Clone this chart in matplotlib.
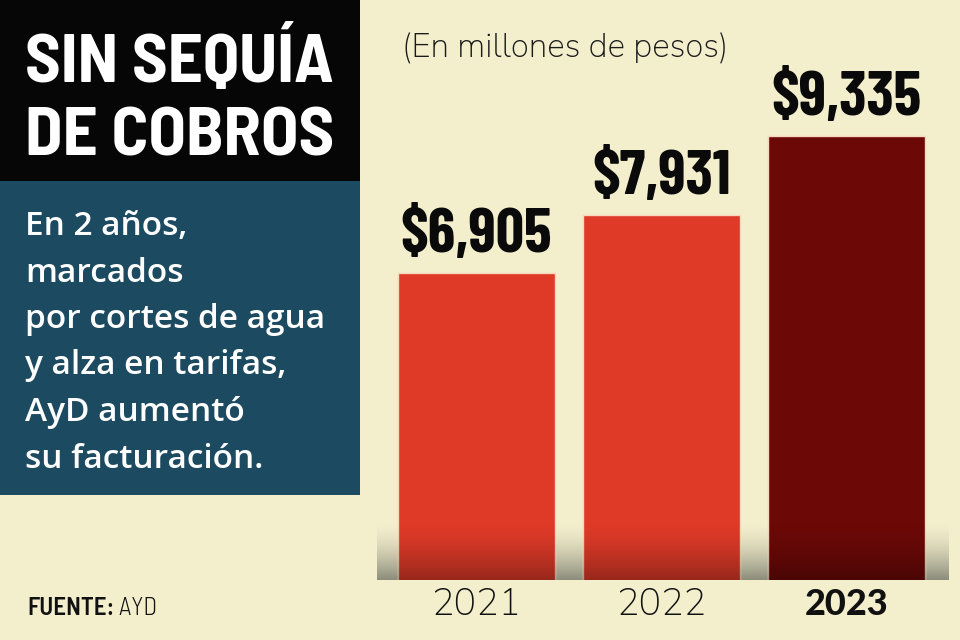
import numpy as np
import matplotlib
matplotlib.use("Agg")
import matplotlib.pyplot as plt
from matplotlib.patches import Rectangle

# data
years = ["2021", "2022", "2023"]
values = [6905, 7931, 9335]
value_labels = ["$6,905", "$7,931", "$9,335"]
bar_colors = ["#df3a28", "#df3a28", "#6c0907"]

title_lines = ["SIN SEQUÍA", "DE COBROS"]
note_lines = ["En 2 años,", "marcados", "por cortes de agua",
              "y alza en tarifas,", "AyD aumentó", "su facturación."]
units = "(En millones de pesos)"

BG = "#f3eecc"
NARROW = ["Barlow Condensed", "DejaVu Sans"]
SEMI = ["Barlow Semi Condensed", "DejaVu Sans"]
GEO = ["Nunito Sans", "Lato", "DejaVu Sans"]

fig = plt.figure(figsize=(9.6, 6.4), dpi=100, facecolor=BG)

# pixel-space axes for the panels and free text
bg = fig.add_axes([0, 0, 1, 1], zorder=0)
bg.set_xlim(0, 960)
bg.set_ylim(640, 0)
bg.axis("off")

bg.add_patch(Rectangle((0, 0), 360, 181, color="#060606", lw=0))
bg.add_patch(Rectangle((0, 181), 360, 314, color="#1c4a60", lw=0))

for i, line in enumerate(title_lines):
    bg.text(25, 82 + i * 73, line, color="white", fontsize=49.5,
            fontweight="bold", family=SEMI, fontstretch="semi-condensed",
            va="baseline", ha="left")

for i, line in enumerate(note_lines):
    bg.text(25, 235 + i * 46.5, line, color="white", fontsize=24,
            fontweight="semibold", family=["Open Sans", "DejaVu Sans"],
            va="baseline", ha="left")

bg.text(402, 57, units, color="#1b1b1b", fontsize=24, fontweight=300,
        family=GEO, va="baseline", ha="left")

src = bg.text(27, 615, "FUENTE:", color="#111111", fontsize=18,
              fontweight="semibold", family=SEMI, fontstretch="semi-condensed",
              va="baseline")
bg.annotate(" AYD", xy=(1, 0), xycoords=src, color="#111111", fontsize=18,
            fontweight=300, family=SEMI, fontstretch="semi-condensed",
            va="bottom", ha="left")

# bar axes: 185 px per category, baseline at y=580 px
ax = fig.add_axes([365.5 / 960, 60 / 640, 592 / 960, 580 / 640], zorder=1)
ax.set_facecolor("none")
for s in ax.spines.values():
    s.set_visible(False)
ax.set_xlim(-0.6, 2.6)
y0, y1 = 1420, 11766
ax.set_ylim(y0, y1)
ax.set_yticks([])

x = np.arange(len(years))
w = 0.85
shadow_top = y0 + 58 / 580 * (y1 - y0)

# grey shadow on the floor behind bars (transparent at top, grey at bottom)
grad = np.linspace(0, 1, 64)[:, None]
floor = np.zeros((64, 1, 4))
floor[..., :3] = matplotlib.colors.to_rgb("#808272")
floor[..., 3] = grad ** 1.6 * 0.9
ax.imshow(floor, extent=[x[0] - 0.54, x[-1] + 0.55, y0, shadow_top],
          aspect="auto", origin="upper", zorder=0.5, interpolation="bilinear")

bars = ax.bar(x, values, width=w, color=bar_colors, edgecolor="#f7d8bc",
              linewidth=1, zorder=2)

dark = np.zeros((64, 1, 4))
dark[..., 3] = grad ** 1.5 * 0.32
for b in bars:
    ax.imshow(dark, extent=[b.get_x(), b.get_x() + b.get_width(), y0, shadow_top],
              aspect="auto", origin="upper", zorder=3, interpolation="bilinear")

for xi, v, lab in zip(x, values, value_labels):
    ax.annotate(lab, xy=(xi, v), xytext=(0, 15), textcoords="offset points",
                ha="center", va="baseline", fontsize=45, fontweight="bold",
                family=NARROW, fontstretch="condensed", color="#0a0a0a")

ax.set_xticks(x)
ax.set_xticklabels(years, fontsize=27, family=GEO, fontweight=300,
                   color="#111111")
ax.tick_params(axis="x", length=0, pad=6)
last = ax.get_xticklabels()[-1]
last.set_family(["Lato", "DejaVu Sans"])
last.set_fontweight("black")
last.set_fontsize(26)

fig.savefig("out.png", dpi=100, facecolor=BG)
